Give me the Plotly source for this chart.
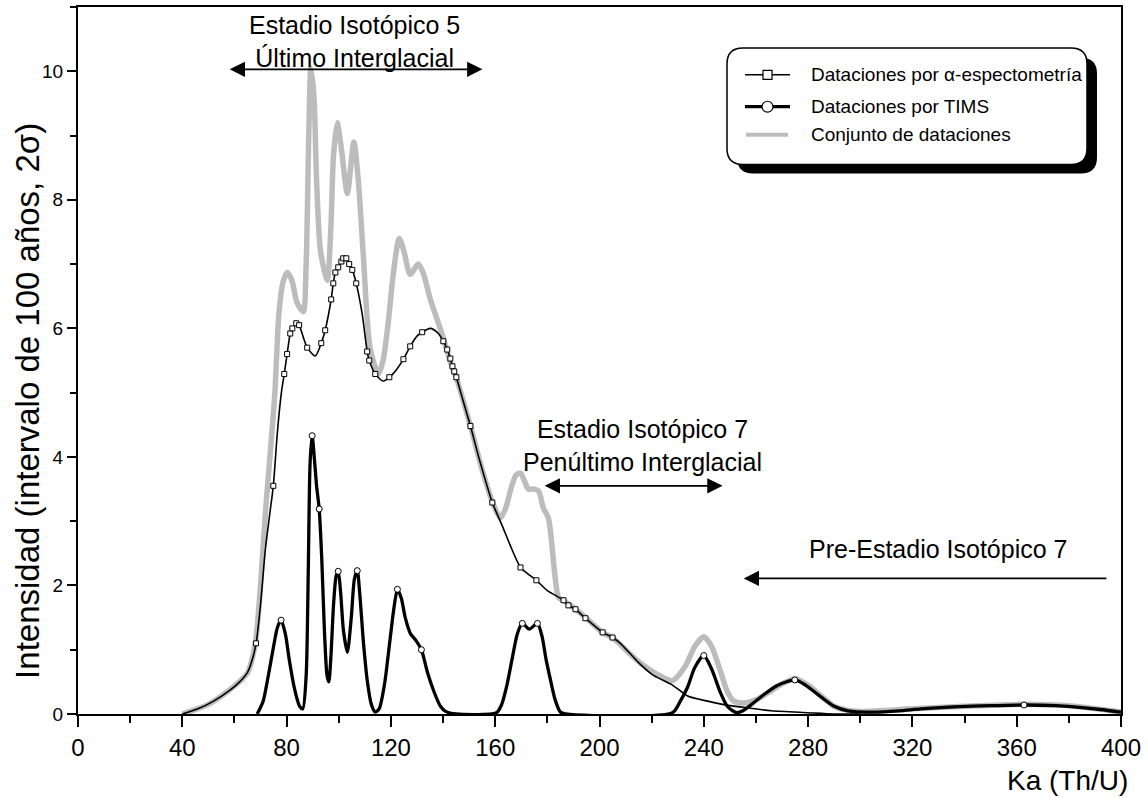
import plotly.graph_objects as go

# ---- Conjunto de dataciones (gray envelope) ----
gray_x = [40, 50, 58, 65, 68, 70, 72, 74, 75.5, 77, 78.5, 80.2, 82, 84, 86.4, 87.5, 88.5, 89.3,
          90.5, 91.5, 93, 95.6, 97, 98, 99.4, 101, 103.3, 105.8, 107.5, 109.4, 112, 115.2, 117,
          119, 121, 123.2, 125, 127.4, 130.5, 132.5, 135, 139.7, 143, 145, 150.5, 155, 159, 162,
          164, 166, 168, 169.7, 171.5, 172.7, 174.5, 176.6, 178.5, 180.4, 183, 184.3, 186, 190.8,
          195, 201, 205, 210, 215.7, 222, 228, 233, 236.5, 240, 243, 246.5, 249, 251.5, 255, 260,
          265, 270, 275, 280, 285, 290, 295, 300, 320, 340, 362, 382, 400]
gray_y = [0, 0.15, 0.37, 0.64, 1.1, 2.0, 3.2, 4.2, 5.0, 6.2, 6.7, 6.87, 6.75, 6.4, 6.26, 7.0, 9.0, 10.05,
          9.6, 8.3, 7.2, 6.75, 7.6, 8.7, 9.2, 8.8, 8.1, 8.9, 8.3, 7.15, 5.7, 5.29, 5.5,
          6.1, 6.88, 7.4, 7.2, 6.84, 7.0, 6.85, 6.47, 5.9, 5.45, 5.24, 4.48, 3.8, 3.29, 3.05,
          3.2, 3.5, 3.72, 3.75, 3.6, 3.5, 3.5, 3.47, 3.2, 3.05, 2.12, 1.81, 1.77, 1.63,
          1.49, 1.27, 1.19, 1.0, 0.79, 0.62, 0.52, 0.75, 1.05, 1.2, 1.05, 0.65, 0.35, 0.2, 0.17, 0.22,
          0.34, 0.47, 0.55, 0.45, 0.28, 0.12, 0.06, 0.04, 0.08, 0.12, 0.15, 0.12, 0.03]

# ---- Dataciones por alfa-espectometria ----
alpha_x = [40, 46, 52, 58.3, 62, 64.9, 66.5, 68.3, 70, 71.8, 73.5, 74.9, 76.5, 78, 79.1, 80.2, 81.4,
           82.2, 83.7, 84.8, 86.5, 87.9, 91, 93.3, 94.8, 96, 97.1, 97.9, 98.7, 99.8, 101, 101.7,
           102.9, 104, 105.2, 106.7, 109, 110.9, 111.7, 114, 117, 119.4, 122, 124.8, 127.4, 130,
           132, 135.1, 138, 140.1, 141.6, 142.8, 143.6, 144.3, 145.1, 147.5, 150.5, 154, 158.9,
           163, 166, 169.7, 172.5, 175.8, 180, 186.2, 188.1, 190.8, 194.6, 201.2, 205, 208, 215,
           220.7, 228, 233.8, 241.5, 250, 258, 266, 280, 290, 300]
alpha_y = [0, 0.08, 0.2, 0.37, 0.5, 0.64, 0.8, 1.1, 1.7, 2.54, 3.1, 3.55, 4.4, 5.0, 5.29, 5.6, 5.92,
           6.0, 6.08, 6.05, 5.85, 5.7, 5.57, 5.77, 5.97, 6.2, 6.45, 6.7, 6.87, 6.95, 7.04, 7.09,
           7.09, 7.0, 6.91, 6.7, 6.22, 5.64, 5.5, 5.29, 5.18, 5.24, 5.35, 5.52, 5.72, 5.88,
           5.94, 6.0, 5.93, 5.8, 5.67, 5.53, 5.41, 5.33, 5.24, 4.9, 4.48, 3.95, 3.29,
           2.9, 2.6, 2.28, 2.18, 2.08, 1.92, 1.77, 1.69, 1.63, 1.49, 1.27, 1.19, 1.1, 0.8,
           0.6, 0.45, 0.28, 0.2, 0.13, 0.09, 0.05, 0.02, 0.0, 0.0]
alpha_mx = [68.3, 74.9, 79.1, 80.2, 81.4, 82.2, 83.7, 84.8, 87.9, 93.3, 94.8, 97.1, 97.9, 98.7, 99.8,
            101, 101.7, 102.9, 104, 105.2, 106.7, 110.9, 111.7, 114, 119.4, 124.8, 127.4, 132,
            140.1, 141.6, 142.8, 143.6, 144.3, 145.1, 150.5, 158.9, 169.7, 175.8, 186.2, 188.1,
            190.8, 194.6, 201.2, 205]
alpha_my = [1.1, 3.55, 5.29, 5.6, 5.92, 6.0, 6.08, 6.05, 5.7, 5.77, 5.97, 6.45, 6.7, 6.87, 6.95,
            7.04, 7.09, 7.09, 7.0, 6.91, 6.7, 5.64, 5.5, 5.29, 5.24, 5.52, 5.72, 5.94,
            5.8, 5.67, 5.53, 5.41, 5.33, 5.24, 4.48, 3.29, 2.28, 2.08, 1.77, 1.69,
            1.63, 1.49, 1.27, 1.19]

# ---- Dataciones por TIMS ----
tims_x = [68.7, 71, 73, 75, 76.5, 77.9, 79.5, 81, 83, 85, 86.2, 87.5, 88.3, 89, 89.8, 90.8, 91.5,
          92.5, 93.5, 94.5, 95.5, 96.2, 97, 98, 99, 99.8, 100.7, 101.8, 103.3, 104.8, 106, 107.1,
          108, 109.5, 111, 112.5, 114, 115.5, 117.5, 119.5, 121, 122.5, 124, 125.5, 127.5, 129.5,
          131.7, 134, 136.5, 139, 141, 145, 160.5, 162.5, 164.5, 166.6, 168.5, 170.4, 173.1,
          176.2, 178, 179.5, 181.2, 183, 185, 187, 228, 231, 233.8, 236.5, 240, 243, 246.4, 249,
          252.5, 255, 259, 263, 268, 274.9, 279, 284.8, 290, 295.2, 305, 315, 323.2, 335.9, 350,
          362.8, 375, 382, 392, 400]
tims_y = [0, 0.2, 0.6, 1.05, 1.35, 1.46, 1.25, 0.85, 0.4, 0.12, 0.08, 0.6, 2.2, 3.9, 4.33, 3.9, 3.55,
          3.19, 2.4, 1.3, 0.6, 0.5, 0.9, 1.7, 2.15, 2.22, 1.9, 1.3, 0.96, 1.5, 2.1, 2.23,
          1.9, 1.1, 0.5, 0.15, 0.03, 0.08, 0.45, 1.1, 1.6, 1.94, 1.8, 1.5, 1.25, 1.15,
          1.0, 0.65, 0.35, 0.12, 0.04, 0.0, 0.02, 0.15, 0.45, 0.88, 1.25, 1.41, 1.32,
          1.41, 1.2, 0.85, 0.53, 0.22, 0.03, 0.0, 0.02, 0.2, 0.42, 0.72, 0.91, 0.7, 0.33, 0.12,
          0.02, 0.05, 0.17, 0.3, 0.44, 0.53, 0.45, 0.27, 0.12, 0.05, 0.03, 0.05, 0.08, 0.11, 0.13,
          0.14, 0.13, 0.11, 0.07, 0.03]
tims_mx = [77.9, 89.8, 92.5, 99.8, 107.1, 122.5, 131.7, 170.4, 176.2, 240, 274.9, 362.8]
tims_my = [1.46, 4.33, 3.19, 2.22, 2.23, 1.94, 1.0, 1.41, 1.41, 0.91, 0.53, 0.14]

# ---- Axis ticks ----
x_ticks = [0, 40, 80, 120, 160, 200, 240, 280, 320, 360, 400]
y_ticks = [0, 2, 4, 6, 8, 10]

FONT = "Liberation Sans, Arial, sans-serif"
W, H = 1148, 798
ML, MR, MT, MB = 78, 27, 5, 84
PW, PH = W - ML - MR, H - MT - MB


def px(xp):
    return (xp - ML) / PW


def py(yp):
    return (H - MB - yp) / PH


fig = go.Figure()
fig.add_trace(go.Scatter(x=gray_x, y=gray_y, mode="lines",
                         line=dict(color="#bcbcbc", width=5.5, shape="spline", smoothing=0.7),
                         name="Conjunto de dataciones", showlegend=False))
fig.add_trace(go.Scatter(x=alpha_x, y=alpha_y, mode="lines",
                         line=dict(color="black", width=1.6, shape="spline", smoothing=0.7),
                         name="Dataciones por α-espectometría", showlegend=False))
fig.add_trace(go.Scatter(x=tims_x, y=tims_y, mode="lines",
                         line=dict(color="black", width=3.3, shape="spline", smoothing=0.7),
                         name="Dataciones por TIMS", showlegend=False))
fig.add_trace(go.Scatter(x=alpha_mx, y=alpha_my, mode="markers",
                         marker=dict(symbol="square", size=5, color="white",
                                     line=dict(color="black", width=1)),
                         showlegend=False, hoverinfo="skip"))
fig.add_trace(go.Scatter(x=tims_mx, y=tims_my, mode="markers",
                         marker=dict(symbol="circle", size=6, color="white",
                                     line=dict(color="black", width=1)),
                         showlegend=False, hoverinfo="skip"))

shapes = []
annotations = []

# legend box with drop shadow and rounded corners
def rounded(x0, y0, x1, y1, r):
    rx, ry = r / PW, r / PH
    a, b, c, d = px(x0), py(y0), px(x1), py(y1)
    return (f"M {a+rx},{b} L {c-rx},{b} Q {c},{b} {c},{b-ry} L {c},{d+ry} Q {c},{d} {c-rx},{d} "
            f"L {a+rx},{d} Q {a},{d} {a},{d+ry} L {a},{b-ry} Q {a},{b} {a+rx},{b} Z")

shapes.append(dict(type="path", xref="paper", yref="paper",
                   path=rounded(737, 56, 1097, 172, 16), fillcolor="black", line=dict(width=0)))
shapes.append(dict(type="path", xref="paper", yref="paper",
                   path=rounded(727, 46, 1087, 163, 16), fillcolor="white",
                   line=dict(color="black", width=1.5)))

legend_rows = [
    (73, "Dataciones por α-espectometría"),
    (105, "Dataciones por TIMS"),
    (133, "Conjunto de dataciones"),
]
# legend samples
shapes.append(dict(type="line", xref="paper", yref="paper", x0=px(745), x1=px(790),
                   y0=py(73), y1=py(73), line=dict(color="black", width=1.6)))
shapes.append(dict(type="rect", xref="paper", yref="paper", x0=px(763), x1=px(772),
                   y0=py(68.5), y1=py(77.5), fillcolor="white", line=dict(color="black", width=1.2)))
shapes.append(dict(type="line", xref="paper", yref="paper", x0=px(745), x1=px(790),
                   y0=py(105), y1=py(105), line=dict(color="black", width=3.3)))
shapes.append(dict(type="circle", xref="paper", yref="paper", x0=px(762), x1=px(773),
                   y0=py(99.5), y1=py(110.5), fillcolor="white", line=dict(color="black", width=1.2)))
shapes.append(dict(type="line", xref="paper", yref="paper", x0=px(746), x1=px(788),
                   y0=py(133), y1=py(133), line=dict(color="#bcbcbc", width=4)))
for yrow, label in legend_rows:
    annotations.append(dict(xref="paper", yref="paper", x=px(809), y=py(yrow), text=label,
                            showarrow=False, xanchor="left", yanchor="middle",
                            font=dict(family=FONT, size=19, color="black")))

# stage annotations (two centred lines each)
def label(x, y, text, size=25):
    annotations.append(dict(x=x, y=y, xref="x", yref="y", text=text, showarrow=False,
                            xanchor="center", yanchor="middle", align="center",
                            font=dict(family=FONT, size=size, color="black")))


def arrow(x_head, x_tail, y, both=True):
    annotations.append(dict(x=x_head, y=y, ax=x_tail, ay=y, xref="x", yref="y", axref="x", ayref="y",
                            text="", showarrow=True, arrowhead=2, arrowsize=1.7, arrowwidth=1.8,
                            arrowcolor="black", arrowside="end+start" if both else "end"))

label(106, 10.47, "Estadio Isotópico 5<br>Último Interglacial")
arrow(155.1, 57.6, 10.03)

label(216.5, 4.17, "Estadio Isotópico 7<br>Penúltimo Interglacial")
arrow(247.2, 178.4, 3.55)

label(330, 2.57, "Pre-Estadio Isotópico 7")
arrow(255.3, 395, 2.11, both=False)

# axis titles
annotations.append(dict(xref="paper", yref="paper", x=px(28), y=py(400), text="Intensidad (intervalo de 100 años, 2σ)",
                        textangle=-90, showarrow=False, xanchor="center", yanchor="middle",
                        font=dict(family=FONT, size=33, color="black")))
annotations.append(dict(xref="paper", yref="paper", x=px(1130), y=py(781), text="Ka (Th/U)",
                        showarrow=False, xanchor="right", yanchor="middle",
                        font=dict(family=FONT, size=28, color="black")))

fig.update_layout(
    width=W, height=H,
    margin=dict(l=ML, r=MR, t=MT, b=MB, pad=0),
    paper_bgcolor="white", plot_bgcolor="white",
    shapes=shapes, annotations=annotations,
    showlegend=False,
)
fig.update_xaxes(range=[0, 400], tickvals=x_ticks, ticktext=[str(v) for v in x_ticks],
                 showgrid=False, zeroline=False, showline=True, linecolor="black", linewidth=2,
                 mirror=True, ticks="outside", ticklen=11, tickwidth=1.5, tickcolor="black",
                 tickfont=dict(family=FONT, size=24, color="black"),
                 minor=dict(dtick=20, tick0=0, ticks="outside", ticklen=7, tickwidth=1.5,
                            tickcolor="black", showgrid=False))
fig.update_yaxes(range=[0, 11], tickvals=y_ticks, ticktext=[str(v) for v in y_ticks],
                 showgrid=False, zeroline=False, showline=True, linecolor="black", linewidth=2,
                 mirror=True, ticks="outside", ticklen=9, tickwidth=1.5, tickcolor="black",
                 tickfont=dict(family=FONT, size=19, color="black"),
                 minor=dict(dtick=1, tick0=0, ticks="outside", ticklen=6, tickwidth=1.5,
                            tickcolor="black", showgrid=False))

fig.write_html("out.html")
